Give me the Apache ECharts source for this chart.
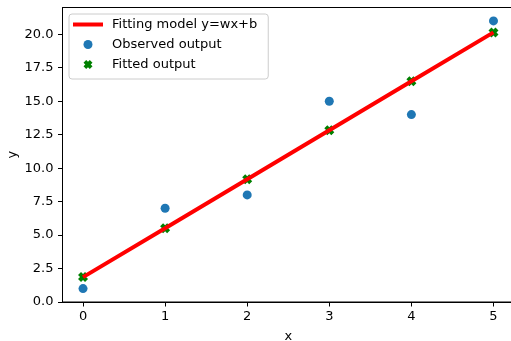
<!DOCTYPE html>
<html>
<head>
<meta charset="utf-8">
<script src="https://cdn.jsdelivr.net/npm/echarts@6/dist/echarts.min.js"></script>
<style>
  html, body { margin: 0; padding: 0; background: #ffffff; }
  #chart { width: 511px; height: 341px; }
</style>
</head>
<body>
<div id="chart"></div>
<script>
// data
const xValues = [0, 1, 2, 3, 4, 5]
const observed = [1, 7, 8, 15, 14, 21]
const fitted = [1.86, 5.51, 9.17, 12.83, 16.49, 20.14]
const xTicks = [0, 1, 2, 3, 4, 5]
const yTicks = [0, 2.5, 5, 7.5, 10, 12.5, 15, 17.5, 20]

const font = 'DejaVu Sans'
// filled X marker like matplotlib 'X'
const xMarker = 'path://M0,3 L3,0 L5,2 L7,0 L10,3 L8,5 L10,7 L7,10 L5,8 L3,10 L0,7 L2,5 Z'
const lineIcon = 'path://M0,0 L30,0 L30,4 L0,4 Z'

const myChart = echarts.init(document.getElementById('chart'))

const options = {
  animation: false,
  textStyle: { fontFamily: font },
  grid: {
    left: 62.5,
    right: -3,
    top: 7.5,
    bottom: 39,
    outerBoundsMode: 'none',
    containLabel: false,
    show: true,
    borderColor: '#000',
    borderWidth: 1
  },
  legend: {
    data: [
      { name: 'Fitting model y=wx+b', icon: lineIcon },
      { name: 'Observed output', icon: 'circle' },
      { name: 'Fitted output', icon: xMarker }
    ],
    orient: 'vertical',
    left: 69,
    top: 14,
    padding: [4, 11, 8, 4],
    itemGap: 7,
    itemWidth: 30,
    itemHeight: 9,
    borderColor: '#cccccc',
    borderWidth: 1,
    borderRadius: 3,
    backgroundColor: 'rgba(255,255,255,0.8)',
    textStyle: { fontFamily: font, fontSize: 13, color: '#000', padding: [0, 0, 0, 4] }
  },
  xAxis: {
    type: 'value',
    min: -0.25,
    max: 5.25,
    name: 'x',
    nameLocation: 'middle',
    nameGap: 28,
    nameMoveOverlap: false,
    nameTextStyle: { fontFamily: font, fontSize: 13, color: '#000' },
    splitLine: { show: false },
    axisLine: { onZero: false, lineStyle: { color: '#000', width: 1 } },
    axisTick: { show: true, length: 4.5, customValues: xTicks, lineStyle: { color: '#000' } },
    axisLabel: {
      customValues: xTicks,
      margin: 8,
      fontFamily: font,
      fontSize: 13,
      color: '#000'
    }
  },
  yAxis: {
    type: 'value',
    min: 0,
    max: 22,
    name: 'y',
    nameLocation: 'middle',
    nameGap: 43,
    nameMoveOverlap: false,
    nameTextStyle: { fontFamily: font, fontSize: 13, color: '#000' },
    splitLine: { show: false },
    axisLine: { show: true, onZero: false, lineStyle: { color: '#000', width: 1 } },
    axisTick: { show: true, length: 4.5, customValues: yTicks, lineStyle: { color: '#000' } },
    axisLabel: {
      customValues: yTicks,
      margin: 9,
      fontFamily: font,
      fontSize: 13,
      color: '#000',
      formatter: v => v.toFixed(1)
    }
  },
  series: [
    {
      name: 'Observed output',
      type: 'scatter',
      symbol: 'circle',
      symbolSize: 9,
      itemStyle: { color: '#1f77b4', opacity: 1 },
      data: xValues.map((x, i) => [x, observed[i]]),
      z: 2
    },
    {
      name: 'Fitted output',
      type: 'scatter',
      symbol: xMarker,
      symbolSize: 10,
      itemStyle: { color: '#008000', opacity: 1 },
      data: xValues.map((x, i) => [x, fitted[i]]),
      z: 3
    },
    {
      name: 'Fitting model y=wx+b',
      type: 'line',
      symbol: 'none',
      lineStyle: { color: '#ff0000', width: 4 },
      itemStyle: { color: '#ff0000' },
      data: xValues.map((x, i) => [x, fitted[i]]),
      z: 4
    }
  ]
}
myChart.setOption(options)
</script>
</body>
</html>
